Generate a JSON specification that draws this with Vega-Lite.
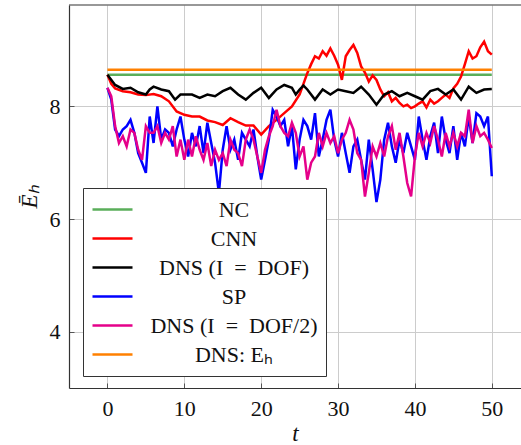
{
  "$schema": "https://vega.github.io/schema/vega-lite/v6.json",
  "autosize": {"type": "none"},
  "padding": {"left": 69, "top": 5, "right": 0, "bottom": 57},
  "width": 452,
  "height": 383,
  "datasets": {
    "cnn": [{"t":0,"v":8.56},{"t":0.5,"v":8.4},{"t":1,"v":8.32},{"t":2,"v":8.27},{"t":3,"v":8.25},{"t":4,"v":8.21},{"t":5,"v":8.2},{"t":6,"v":8.22},{"t":7,"v":8.18},{"t":8,"v":8.09},{"t":9,"v":7.91},{"t":10,"v":7.85},{"t":11,"v":7.82},{"t":12,"v":7.82},{"t":13,"v":7.75},{"t":14,"v":7.72},{"t":15,"v":7.67},{"t":16,"v":7.79},{"t":17,"v":7.72},{"t":18,"v":7.66},{"t":19,"v":7.66},{"t":20,"v":7.5},{"t":21,"v":7.65},{"t":22,"v":7.76},{"t":23,"v":7.88},{"t":24,"v":8.0},{"t":25,"v":8.21},{"t":25.5,"v":8.4},{"t":26,"v":8.59},{"t":26.5,"v":8.75},{"t":27,"v":8.89},{"t":27.5,"v":8.85},{"t":28,"v":8.98},{"t":28.5,"v":8.9},{"t":29,"v":9.03},{"t":29.5,"v":8.9},{"t":30,"v":8.74},{"t":30.5,"v":8.47},{"t":31,"v":8.89},{"t":31.5,"v":9.0},{"t":32,"v":9.09},{"t":32.5,"v":8.95},{"t":33,"v":8.71},{"t":33.5,"v":8.6},{"t":34,"v":8.44},{"t":34.5,"v":8.55},{"t":35,"v":8.47},{"t":35.5,"v":8.3},{"t":36,"v":8.18},{"t":36.5,"v":8.25},{"t":37,"v":8.09},{"t":37.5,"v":8.15},{"t":38,"v":8.06},{"t":38.5,"v":8.0},{"t":39,"v":8.03},{"t":39.5,"v":7.97},{"t":40,"v":8.0},{"t":40.5,"v":8.05},{"t":41,"v":8.09},{"t":41.5,"v":7.98},{"t":42,"v":8.12},{"t":42.5,"v":8.05},{"t":43,"v":8.09},{"t":43.5,"v":8.15},{"t":44,"v":8.21},{"t":44.5,"v":8.15},{"t":45,"v":8.32},{"t":45.5,"v":8.4},{"t":46,"v":8.53},{"t":46.5,"v":8.75},{"t":47,"v":8.98},{"t":47.5,"v":8.85},{"t":48,"v":8.89},{"t":48.5,"v":9.05},{"t":49,"v":9.15},{"t":49.5,"v":8.98},{"t":50,"v":8.92}],
    "dns": [{"t":0,"v":8.56},{"t":1,"v":8.38},{"t":2,"v":8.31},{"t":3,"v":8.33},{"t":4,"v":8.25},{"t":5,"v":8.21},{"t":5.5,"v":8.3},{"t":6,"v":8.35},{"t":7,"v":8.3},{"t":8,"v":8.27},{"t":8.8,"v":8.12},{"t":9.5,"v":8.21},{"t":10,"v":8.21},{"t":11,"v":8.21},{"t":12,"v":8.15},{"t":13,"v":8.21},{"t":14,"v":8.18},{"t":15,"v":8.27},{"t":16,"v":8.33},{"t":17,"v":8.21},{"t":18,"v":8.12},{"t":19,"v":8.24},{"t":20,"v":8.33},{"t":21,"v":8.15},{"t":22,"v":8.3},{"t":23,"v":8.38},{"t":24,"v":8.33},{"t":24.5,"v":8.21},{"t":25,"v":8.3},{"t":25.5,"v":8.37},{"t":26,"v":8.3},{"t":27,"v":8.12},{"t":28,"v":8.3},{"t":29,"v":8.21},{"t":30,"v":8.3},{"t":31,"v":8.27},{"t":32,"v":8.24},{"t":33,"v":8.35},{"t":34,"v":8.21},{"t":35,"v":8.03},{"t":36,"v":8.21},{"t":37,"v":8.27},{"t":38,"v":8.18},{"t":39,"v":8.24},{"t":40,"v":8.18},{"t":41,"v":8.12},{"t":42,"v":8.27},{"t":43,"v":8.31},{"t":44,"v":8.21},{"t":45,"v":8.3},{"t":46,"v":8.12},{"t":47,"v":8.35},{"t":48,"v":8.24},{"t":49,"v":8.3},{"t":50,"v":8.31}],
    "sp": [{"t":0,"v":8.33},{"t":0.5,"v":8.12},{"t":1,"v":7.59},{"t":1.5,"v":7.47},{"t":2,"v":7.59},{"t":2.5,"v":7.65},{"t":3,"v":7.76},{"t":3.5,"v":7.53},{"t":4,"v":7.17},{"t":4.5,"v":7.0},{"t":5,"v":6.82},{"t":5.5,"v":7.82},{"t":6,"v":7.35},{"t":6.5,"v":8.0},{"t":7,"v":7.41},{"t":7.5,"v":7.59},{"t":8,"v":7.53},{"t":8.5,"v":7.29},{"t":9,"v":7.59},{"t":9.5,"v":7.82},{"t":10,"v":7.41},{"t":10.5,"v":7.11},{"t":11,"v":7.53},{"t":11.5,"v":7.29},{"t":12,"v":7.65},{"t":12.5,"v":7.17},{"t":13,"v":7.71},{"t":13.5,"v":7.35},{"t":14,"v":7.0},{"t":14.5,"v":6.46},{"t":15,"v":7.23},{"t":15.5,"v":7.65},{"t":16,"v":7.23},{"t":16.5,"v":7.41},{"t":17,"v":7.05},{"t":17.5,"v":7.53},{"t":18,"v":7.41},{"t":18.5,"v":7.29},{"t":19,"v":7.59},{"t":19.5,"v":7.11},{"t":20,"v":6.7},{"t":20.5,"v":7.05},{"t":21,"v":7.41},{"t":21.5,"v":7.94},{"t":22,"v":7.82},{"t":22.5,"v":7.65},{"t":23,"v":7.76},{"t":23.5,"v":7.29},{"t":24,"v":7.65},{"t":24.5,"v":6.88},{"t":25,"v":7.41},{"t":25.5,"v":7.76},{"t":26,"v":7.65},{"t":26.5,"v":7.41},{"t":27,"v":7.88},{"t":27.5,"v":7.11},{"t":28,"v":7.41},{"t":28.5,"v":7.76},{"t":29,"v":7.94},{"t":29.5,"v":7.41},{"t":30,"v":7.11},{"t":30.5,"v":7.53},{"t":31,"v":7.17},{"t":31.5,"v":6.82},{"t":32,"v":7.29},{"t":32.5,"v":7.41},{"t":33,"v":7.05},{"t":33.5,"v":6.7},{"t":34,"v":7.41},{"t":34.5,"v":6.88},{"t":35,"v":6.3},{"t":35.5,"v":6.7},{"t":36,"v":7.41},{"t":36.5,"v":7.71},{"t":37,"v":7.29},{"t":37.5,"v":7.0},{"t":38,"v":7.41},{"t":38.5,"v":7.17},{"t":39,"v":7.53},{"t":39.5,"v":7.29},{"t":40,"v":7.05},{"t":40.5,"v":7.82},{"t":41,"v":7.41},{"t":41.5,"v":7.05},{"t":42,"v":7.47},{"t":42.5,"v":7.71},{"t":43,"v":7.17},{"t":43.5,"v":7.82},{"t":44,"v":7.41},{"t":44.5,"v":7.17},{"t":45,"v":7.65},{"t":45.5,"v":7.05},{"t":46,"v":7.53},{"t":46.5,"v":7.29},{"t":47,"v":7.82},{"t":47.5,"v":7.35},{"t":48,"v":7.88},{"t":48.5,"v":7.82},{"t":49,"v":7.65},{"t":49.5,"v":7.82},{"t":50,"v":6.76}],
    "dns2": [{"t":0,"v":8.33},{"t":0.5,"v":8.18},{"t":1,"v":7.65},{"t":1.5,"v":7.35},{"t":2,"v":7.47},{"t":2.5,"v":7.29},{"t":3,"v":7.59},{"t":3.5,"v":7.53},{"t":4,"v":7.23},{"t":4.5,"v":7.05},{"t":5,"v":7.65},{"t":5.5,"v":7.53},{"t":6,"v":7.53},{"t":6.5,"v":7.65},{"t":7,"v":7.35},{"t":7.5,"v":7.53},{"t":8,"v":7.41},{"t":8.5,"v":7.65},{"t":9,"v":7.11},{"t":9.5,"v":7.41},{"t":10,"v":7.05},{"t":10.5,"v":7.41},{"t":11,"v":7.11},{"t":11.5,"v":7.47},{"t":12,"v":7.23},{"t":12.5,"v":7.05},{"t":13,"v":7.35},{"t":13.5,"v":6.94},{"t":14,"v":7.23},{"t":14.5,"v":7.05},{"t":15,"v":7.17},{"t":15.5,"v":6.94},{"t":16,"v":7.41},{"t":16.5,"v":7.23},{"t":17,"v":7.17},{"t":17.5,"v":6.94},{"t":18,"v":7.41},{"t":18.5,"v":7.59},{"t":19,"v":7.41},{"t":19.5,"v":7.11},{"t":20,"v":6.82},{"t":20.5,"v":7.23},{"t":21,"v":7.47},{"t":21.5,"v":7.65},{"t":22,"v":7.94},{"t":22.5,"v":7.65},{"t":23,"v":7.53},{"t":23.5,"v":7.47},{"t":24,"v":7.71},{"t":24.5,"v":7.53},{"t":25,"v":7.11},{"t":25.5,"v":7.29},{"t":26,"v":6.7},{"t":26.5,"v":7.0},{"t":27,"v":7.11},{"t":27.5,"v":7.53},{"t":28,"v":7.29},{"t":28.5,"v":7.53},{"t":29,"v":7.35},{"t":29.5,"v":7.47},{"t":30,"v":7.17},{"t":30.5,"v":7.41},{"t":31,"v":7.53},{"t":31.5,"v":7.76},{"t":32,"v":7.59},{"t":32.5,"v":7.17},{"t":33,"v":7.05},{"t":33.5,"v":6.4},{"t":34,"v":6.82},{"t":34.5,"v":7.29},{"t":35,"v":7.11},{"t":35.5,"v":7.35},{"t":36,"v":7.11},{"t":36.5,"v":7.47},{"t":37,"v":7.65},{"t":37.5,"v":7.23},{"t":38,"v":7.53},{"t":38.5,"v":7.11},{"t":39,"v":6.64},{"t":39.5,"v":6.4},{"t":40,"v":7.11},{"t":40.5,"v":7.53},{"t":41,"v":7.29},{"t":41.5,"v":7.53},{"t":42,"v":7.35},{"t":42.5,"v":7.65},{"t":43,"v":7.41},{"t":43.5,"v":7.11},{"t":44,"v":7.53},{"t":44.5,"v":7.29},{"t":45,"v":7.53},{"t":45.5,"v":7.29},{"t":46,"v":7.53},{"t":46.5,"v":7.47},{"t":47,"v":7.94},{"t":47.5,"v":7.35},{"t":48,"v":7.65},{"t":48.5,"v":7.47},{"t":49,"v":7.53},{"t":49.5,"v":7.41},{"t":50,"v":7.26}],
    "nc": [{"t":0,"v":8.56},{"t":50,"v":8.56}],
    "eh": [{"t":0,"v":8.65},{"t":50,"v":8.65}],
    "frame": [{"top": 9.8}]
  },
  "encoding": {
    "x": {"field": "t", "type": "quantitative", "scale": {"domain": [-5, 53.8], "nice": false, "zero": false},
      "axis": {"values": [0, 10, 20, 30, 40, 50], "title": "t", "titleFontStyle": "italic", "titleFontWeight": "normal", "titleFontSize": 23, "titlePadding": 3, "labelFontSize": 22, "labelPadding": 15, "grid": true, "gridColor": "#cccccc", "domain": true, "domainColor": "#333", "domainWidth": 1.2, "tickSize": -5, "tickColor": "#555", "labelColor": "#111", "titleColor": "#111"}},
    "y": {"field": "v", "type": "quantitative", "scale": {"domain": [3, 9.8], "nice": false, "zero": false},
      "axis": {"values": [4, 6, 8], "title": "Ē\u2095", "titleFontStyle": "italic", "titleFontWeight": "normal", "titleFontSize": 23, "titlePadding": 8, "labelFontSize": 22, "labelPadding": 14, "grid": true, "gridColor": "#cccccc", "domain": true, "domainColor": "#333", "domainWidth": 1.2, "tickSize": -5, "tickColor": "#555", "labelColor": "#111", "titleColor": "#111"}}
  },
  "layer": [
    {"data": {"name": "frame"}, "mark": {"type": "rule", "color": "#333", "strokeWidth": 1.2}, "encoding": {"x": null, "y": {"field": "top", "type": "quantitative"}}},
    {"data": {"name": "nc"}, "mark": {"type": "line", "strokeWidth": 2.5}, "encoding": {"color": {"datum": "NC"}}},
    {"data": {"name": "cnn"}, "mark": {"type": "line", "strokeWidth": 2.5}, "encoding": {"color": {"datum": "CNN"}}},
    {"data": {"name": "dns"}, "mark": {"type": "line", "strokeWidth": 2.5}, "encoding": {"color": {"datum": "DNS (I\u2002=\u2002DOF)"}}},
    {"data": {"name": "sp"}, "mark": {"type": "line", "strokeWidth": 2.5}, "encoding": {"color": {"datum": "SP"}}},
    {"data": {"name": "dns2"}, "mark": {"type": "line", "strokeWidth": 2.5}, "encoding": {"color": {"datum": "DNS (I\u2002=\u2002DOF/2)"}}},
    {"data": {"name": "eh"}, "mark": {"type": "line", "strokeWidth": 2.5},
      "encoding": {"color": {"datum": "DNS: E\u2095", "type": "nominal",
        "scale": {"domain": ["NC", "CNN", "DNS (I\u2002=\u2002DOF)", "SP", "DNS (I\u2002=\u2002DOF/2)", "DNS: E\u2095"], "range": ["#5aae5a", "#ff0000", "#000000", "#0000ff", "#e5008a", "#ff8000"]},
        "legend": {"title": null, "orient": "none", "legendX": 14, "legendY": 183, "strokeColor": "#333", "fillColor": "white", "padding": 8, "symbolType": "stroke", "symbolSize": 1600, "symbolStrokeWidth": 2.5, "labelFontSize": 22, "labelAlign": "center", "labelOffset": 100, "clipHeight": 27, "rowPadding": 2, "cornerRadius": 0, "labelColor": "#111", "labelLimit": 400}}}}
  ],
  "config": {"font": "Liberation Serif", "view": {"stroke": null}}
}
